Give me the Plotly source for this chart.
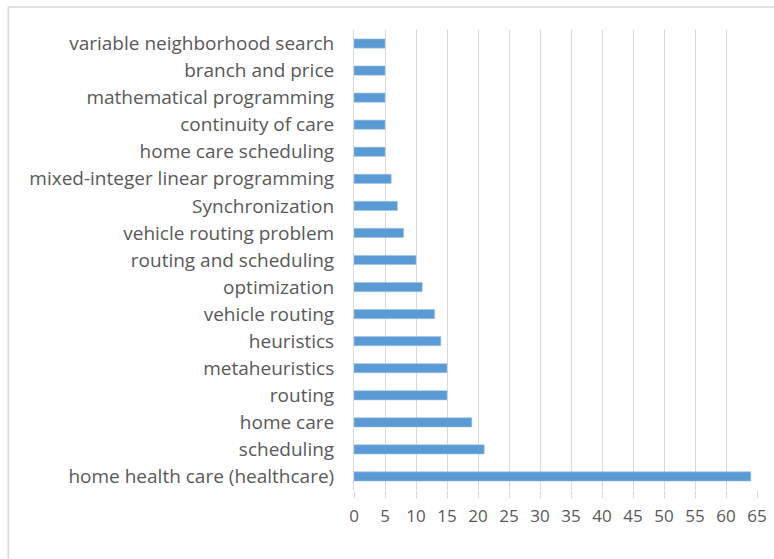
import plotly.graph_objects as go

keywords = [
    "home health care (healthcare)", "scheduling", "home care", "routing",
    "metaheuristics", "heuristics", "vehicle routing", "optimization",
    "routing and scheduling", "vehicle routing problem", "Synchronization",
    "mixed-integer linear programming", "home care scheduling",
    "continuity of care", "mathematical programming", "branch and price",
    "variable neighborhood search",
]
counts = [64, 21, 19, 15, 15, 14, 13, 11, 10, 8, 7, 6, 5, 5, 5, 5, 5]
x_ticks = list(range(0, 70, 5))

W, H = 774, 559
L, R, T, B = 353.5, 16.5, 30, 69

fig = go.Figure(go.Bar(
    x=counts, y=keywords, orientation="h",
    marker=dict(color="#5B9BD5", line=dict(color="#9DC3E6", width=0.6)),
))

fig.update_layout(
    width=W, height=H,
    margin=dict(l=L, r=R, t=T, b=B, autoexpand=False),
    paper_bgcolor="white", plot_bgcolor="white",
    bargap=0.66, showlegend=False,
    font=dict(family="Open Sans", color="#595959"),
)
fig.update_xaxes(
    range=[0, 65], tickvals=x_ticks, showgrid=True, gridcolor="#D9D9D9", gridwidth=1,
    zeroline=False, ticks="outside", ticklen=7, tickcolor="#D9D9D9", automargin=False,
    tickfont=dict(size=17, color="#595959"), ticklabelstandoff=4,
)
fig.update_yaxes(
    showline=True, linecolor="#D9D9D9", linewidth=1, ticks="", automargin=False,
    tickfont=dict(size=19, color="#595959"), ticklabelstandoff=15,
    categoryorder="array", categoryarray=keywords,
)

pw, ph = W - L - R, H - T - B
fig.add_shape(
    type="rect", xref="paper", yref="paper",
    x0=(7 - L) / pw, x1=(W + 5 - L) / pw,
    y0=-(H + 5 - T - ph) / ph, y1=1 + (T - 7) / ph,
    line=dict(color="#D9D9D9", width=1.5), layer="below",
)

# page body has an 8px default margin; drop it so the figure sits at 0,0
fig.write_html("out.html", config={"displayModeBar": False},
               post_script="document.body.style.margin='0';")
